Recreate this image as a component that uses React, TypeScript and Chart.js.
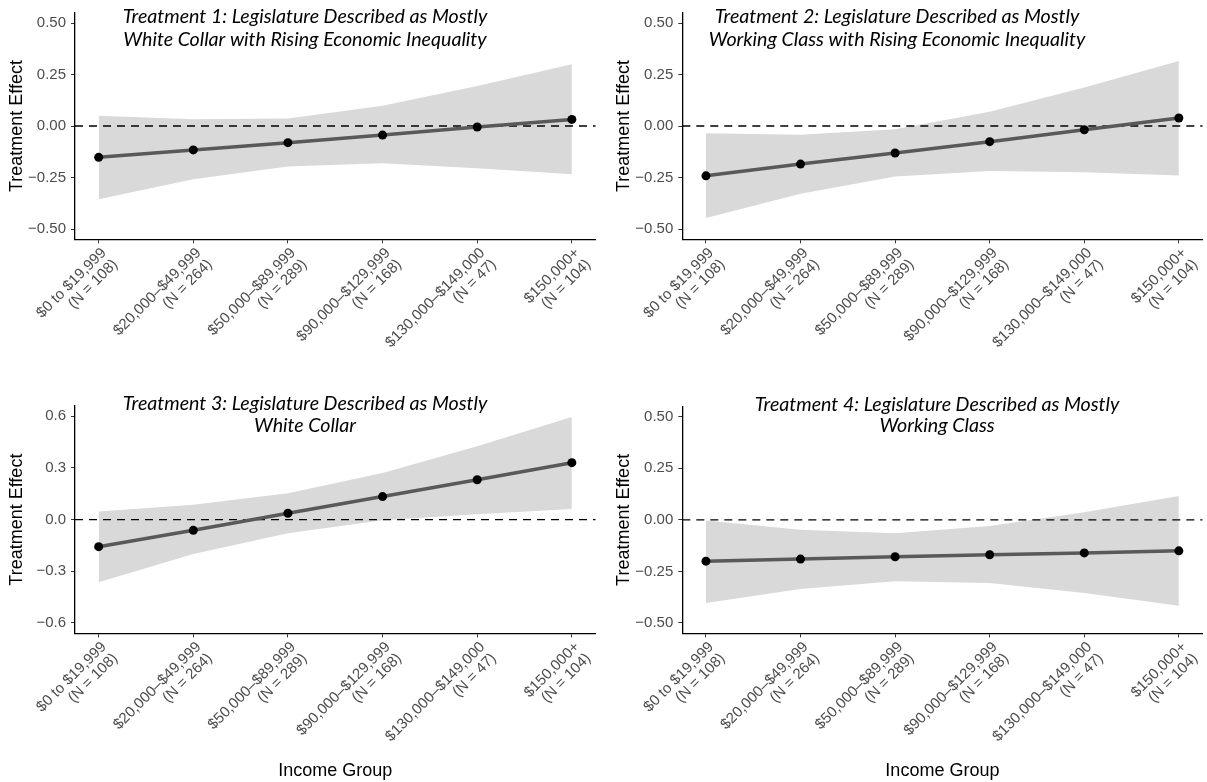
import React, { useEffect, useRef } from "react";
import { Chart, registerables } from "chart.js";

Chart.register(...registerables);

// ---------- data ----------
const INCOME_RANGES = [
  "$0 to $19,999",
  "$20,000\u2013$49,999",
  "$50,000\u2013$89,999",
  "$90,000\u2013$129,999",
  "$130,000\u2013$149,000",
  "$150,000+",
];
const GROUP_N = ["(N = 108)", "(N = 264)", "(N = 289)", "(N = 168)", "(N = 47)", "(N = 104)"];
const X_POSITIONS = [1, 2, 3, 4, 5, 6];

const T1_EST = [-0.152, -0.116, -0.081, -0.044, -0.005, 0.032];
const T1_LO = [-0.355, -0.258, -0.197, -0.181, -0.205, -0.234];
const T1_HI = [0.05, 0.033, 0.036, 0.098, 0.194, 0.3];

const T2_EST = [-0.242, -0.185, -0.131, -0.076, -0.018, 0.039];
const T2_LO = [-0.447, -0.329, -0.245, -0.218, -0.224, -0.24];
const T2_HI = [-0.035, -0.042, -0.016, 0.069, 0.187, 0.316];

const T3_EST = [-0.157, -0.062, 0.037, 0.134, 0.232, 0.331];
const T3_LO = [-0.364, -0.199, -0.079, -0.004, 0.031, 0.062];
const T3_HI = [0.048, 0.087, 0.153, 0.271, 0.426, 0.596];

const T4_EST = [-0.2, -0.19, -0.179, -0.169, -0.16, -0.15];
const T4_LO = [-0.403, -0.335, -0.297, -0.306, -0.355, -0.416];
const T4_HI = [-0.003, -0.048, -0.065, -0.029, 0.037, 0.116];

const TICKS_QUARTER = [-0.5, -0.25, 0, 0.25, 0.5];
const TICKS_TENTHS = [-0.6, -0.3, 0, 0.3, 0.6];

const TITLE_1 = ["Treatment 1: Legislature Described as Mostly", "White Collar with Rising Economic Inequality"];
const TITLE_2 = ["Treatment 2: Legislature Described as Mostly", "Working Class with Rising Economic Inequality"];
const TITLE_3 = ["Treatment 3: Legislature Described as Mostly", "White Collar"];
const TITLE_4 = ["Treatment 4: Legislature Described as Mostly", "Working Class"];

const Y_LABEL = "Treatment Effect";
const X_LABEL = "Income Group";

// ---------- styling / layout ----------
const SANS = "'Liberation Sans', Arial, Helvetica, sans-serif";
const TITLE_FONT = "Lato, 'Open Sans', sans-serif";
const TITLE_TARGET_WIDTH = 365;

type Area = { left: number; right: number; top: number; bottom: number };
type PanelSpec = {
  title: string[];
  est: number[];
  lo: number[];
  hi: number[];
  yTicks: number[];
  yLimit: number;
  decimals: number;
  showXTitle: boolean;
  box: { left: number; top: number; width: number; height: number };
  area: Area;
  titleCenter: number;
  titleY: number[];
};

const PANELS: PanelSpec[] = [
  {
    title: TITLE_1, est: T1_EST, lo: T1_LO, hi: T1_HI, yTicks: TICKS_QUARTER, yLimit: 0.55, decimals: 2, showXTitle: false,
    box: { left: 0, top: 0, width: 600, height: 390 },
    area: { left: 75, right: 596.7, top: 12.7, bottom: 239.3 },
    titleCenter: 305, titleY: [17, 40],
  },
  {
    title: TITLE_2, est: T2_EST, lo: T2_LO, hi: T2_HI, yTicks: TICKS_QUARTER, yLimit: 0.55, decimals: 2, showXTitle: false,
    box: { left: 600, top: 0, width: 607, height: 390 },
    area: { left: 82.3, right: 605.2, top: 12.7, bottom: 239.3 },
    titleCenter: 297, titleY: [17, 40],
  },
  {
    title: TITLE_3, est: T3_EST, lo: T3_LO, hi: T3_HI, yTicks: TICKS_TENTHS, yLimit: 0.66, decimals: 1, showXTitle: true,
    box: { left: 0, top: 390, width: 600, height: 392 },
    area: { left: 75, right: 596.7, top: 16, bottom: 243.3 },
    titleCenter: 305, titleY: [14, 36],
  },
  {
    title: TITLE_4, est: T4_EST, lo: T4_LO, hi: T4_HI, yTicks: TICKS_QUARTER, yLimit: 0.55, decimals: 2, showXTitle: true,
    box: { left: 600, top: 390, width: 607, height: 392 },
    area: { left: 82.3, right: 605.2, top: 16.5, bottom: 243.3 },
    titleCenter: 337, titleY: [15, 36],
  },
];

function fmt(v: number, d: number) {
  if (Math.abs(v) < 1e-9) return (0).toFixed(d);
  return v < 0 ? "\u2212" + Math.abs(v).toFixed(d) : v.toFixed(d);
}

function Panel({ spec }: { spec: PanelSpec }) {
  const ref = useRef<HTMLCanvasElement>(null);

  useEffect(() => {
    const canvas = ref.current;
    if (!canvas) return;
    const { area, box } = spec;
    const pts = (ys: number[]) => X_POSITIONS.map((x, i) => ({ x, y: ys[i] }));

    const overlay = {
      id: "overlay",
      beforeDatasetDraw(chart: any, args: any) {
        if (args.index !== 0) return;
        const ctx = chart.ctx;
        const y = chart.scales.y.getPixelForValue(0);
        ctx.save();
        ctx.strokeStyle = "#000";
        ctx.lineWidth = 1.3;
        ctx.setLineDash([8, 6]);
        ctx.beginPath();
        ctx.moveTo(chart.chartArea.left, y);
        ctx.lineTo(chart.chartArea.right, y);
        ctx.stroke();
        ctx.restore();
      },
      afterDraw(chart: any) {
        const ctx = chart.ctx;
        const xs = chart.scales.x;
        // rotated two-line tick labels
        ctx.save();
        ctx.fillStyle = "#4d4d4d";
        ctx.font = `15px ${SANS}`;
        ctx.textAlign = "right";
        ctx.textBaseline = "top";
        X_POSITIONS.forEach((v, i) => {
          const px = xs.getPixelForValue(v);
          const py = chart.chartArea.bottom + 6;
          ctx.save();
          ctx.translate(px, py);
          ctx.rotate(-Math.PI / 4);
          ctx.fillText(INCOME_RANGES[i], 0, 0);
          ctx.fillText(GROUP_N[i], 0, 16);
          ctx.restore();
        });
        ctx.restore();

        // panel title
        ctx.save();
        ctx.font = `italic 100px ${TITLE_FONT}`;
        const w = ctx.measureText(spec.title[0]).width;
        const size = (100 * TITLE_TARGET_WIDTH) / w;
        ctx.font = `italic ${size.toFixed(2)}px ${TITLE_FONT}`;
        ctx.fillStyle = "#000";
        ctx.textAlign = "center";
        ctx.textBaseline = "middle";
        spec.title.forEach((line, j) => ctx.fillText(line, spec.titleCenter, spec.titleY[j]));
        ctx.restore();
      },
    };

    const chart = new Chart(canvas, {
      type: "line",
      data: {
        datasets: [
          {
            data: pts(spec.est),
            borderColor: "#595959",
            borderWidth: 3.5,
            pointRadius: 4.5,
            pointBackgroundColor: "#000",
            pointBorderWidth: 0,
            fill: false,
            tension: 0,
          },
          {
            data: pts(spec.hi),
            borderWidth: 0,
            borderColor: "rgba(0,0,0,0)",
            pointRadius: 0,
            fill: "+1",
            backgroundColor: "#d9d9d9",
            tension: 0,
          },
          {
            data: pts(spec.lo),
            borderWidth: 0,
            borderColor: "rgba(0,0,0,0)",
            pointRadius: 0,
            fill: false,
            tension: 0,
          },
        ],
      },
      options: {
        responsive: false,
        animation: false,
        events: [],
        layout: { padding: { left: 0, top: area.top, right: box.width - area.right, bottom: 0 } },
        plugins: { legend: { display: false }, tooltip: { enabled: false }, title: { display: false } },
        scales: {
          x: {
            type: "linear",
            min: 0.75,
            max: 6.25,
            afterBuildTicks: (s: any) => {
              s.ticks = X_POSITIONS.map((v) => ({ value: v }));
            },
            afterFit: (s: any) => {
              s.height = box.height - area.bottom;
              s.paddingLeft = 0;
              s.paddingRight = 0;
              s.paddingTop = 0;
              s.paddingBottom = 0;
            },
            ticks: { display: false },
            grid: { display: true, drawOnChartArea: false, drawTicks: true, tickLength: 4, color: "#333333", lineWidth: 1 },
            border: { display: true, color: "#000", width: 1.3 },
            title: {
              display: spec.showXTitle,
              text: X_LABEL,
              color: "#000",
              font: { family: SANS, size: 18 },
              padding: { top: 0, bottom: 0 },
            },
          },
          y: {
            type: "linear",
            min: -spec.yLimit,
            max: spec.yLimit,
            afterBuildTicks: (s: any) => {
              s.ticks = spec.yTicks.map((v) => ({ value: v }));
            },
            afterFit: (s: any) => {
              s.width = area.left;
              s.paddingTop = 0;
              s.paddingBottom = 0;
              s.paddingLeft = 0;
              s.paddingRight = 0;
            },
            ticks: {
              color: "#4d4d4d",
              font: { family: SANS, size: 15 },
              padding: 5,
              callback: (v: any) => fmt(Number(v), spec.decimals),
            },
            grid: { display: true, drawOnChartArea: false, drawTicks: true, tickLength: 4, color: "#333333", lineWidth: 1 },
            border: { display: true, color: "#000", width: 1.3 },
            title: {
              display: true,
              text: Y_LABEL,
              color: "#000",
              font: { family: SANS, size: 18 },
              padding: { top: area.left - 58 - 10.8, bottom: 0 },
            },
          },
        },
      } as any,
      plugins: [overlay],
    });
    return () => chart.destroy();
  }, [spec]);

  return (
    <canvas
      ref={ref}
      width={spec.box.width}
      height={spec.box.height}
      style={{
        position: "absolute",
        left: spec.box.left,
        top: spec.box.top,
        width: spec.box.width,
        height: spec.box.height,
        display: "block",
      }}
    />
  );
}

export default function App() {
  return (
    <div style={{ position: "absolute", left: 0, top: 0, width: 1207, height: 782, background: "#fff", overflow: "hidden" }}>
      {PANELS.map((p, i) => (
        <Panel key={i} spec={p} />
      ))}
    </div>
  );
}
